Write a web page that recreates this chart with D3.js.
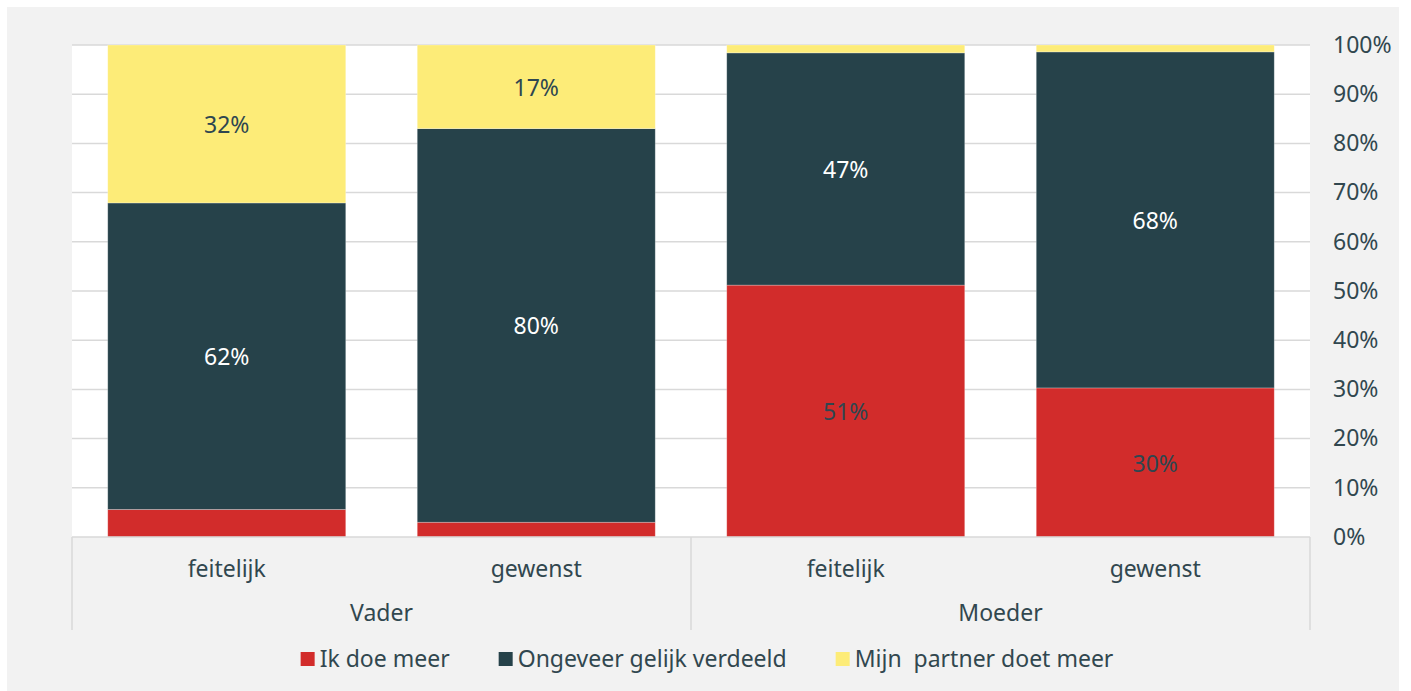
<!DOCTYPE html>
<html>
<head>
<meta charset="utf-8">
<script src="https://cdn.jsdelivr.net/npm/d3@7/dist/d3.min.js"></script>
<style>
  html, body { margin: 0; padding: 0; background: #ffffff; }
  svg { display: block; }
  text { font-family: "Noto Sans", Lato, sans-serif; }
</style>
</head>
<body>
<svg id="chart" width="1411" height="691"></svg>
<script>
// ---- data ----
const groups = ["Vader", "Vader", "Moeder", "Moeder"];
const subcategories = ["feitelijk", "gewenst", "feitelijk", "gewenst"];
const seriesNames = ["Ik doe meer", "Ongeveer gelijk verdeeld", "Mijn  partner doet meer"];
const ikDoeMeer = [5.6, 3, 51.2, 30.3];
const gelijkVerdeeld = [62.3, 80, 47.2, 68.3];
const partnerDoetMeer = [32.1, 17, 1.6, 1.4];
const yTicks = [0, 10, 20, 30, 40, 50, 60, 70, 80, 90, 100];

const colors = ["#d22c2b", "#26424a", "#fdec78"];
const labelColors = ["#2e4650", "#ffffff", "#2e4650"];
const textColor = "#31474f";
const gridColor = "#d9d9d9";
const FS = 23;

const svg = d3.select("#chart");

// background panel
svg.append("rect").attr("x", 7).attr("y", 7).attr("width", 1392).attr("height", 684).attr("fill", "#f2f2f2");

const plot = { left: 72, right: 1310, top: 45, bottom: 537 };
svg.append("rect").attr("x", plot.left).attr("y", plot.top)
  .attr("width", plot.right - plot.left).attr("height", plot.bottom - plot.top).attr("fill", "#ffffff");

const idx = d3.range(subcategories.length);
const x = d3.scaleBand().domain(idx).range([plot.left, plot.right]).paddingInner(0.231).paddingOuter(0.1155);
const y = d3.scaleLinear().domain([0, 100]).range([plot.bottom, plot.top]);

// gridlines
svg.append("g").selectAll("line").data(yTicks.filter(t => t > 0)).join("line")
  .attr("x1", plot.left).attr("x2", plot.right)
  .attr("y1", d => y(d)).attr("y2", d => y(d))
  .attr("stroke", gridColor).attr("stroke-width", 1.5);

// stacked data
const table = idx.map(i => ({ i, s0: ikDoeMeer[i], s1: gelijkVerdeeld[i], s2: partnerDoetMeer[i] }));
const stack = d3.stack().keys(["s0", "s1", "s2"]);
const stacked = stack(table);

const layers = svg.append("g").selectAll("g").data(stacked).join("g")
  .attr("fill", (d, k) => colors[k]);
layers.selectAll("rect").data(d => d).join("rect")
  .attr("x", d => x(d.data.i))
  .attr("width", x.bandwidth())
  .attr("y", d => y(d[1]))
  .attr("height", d => y(d[0]) - y(d[1]))
  .attr("stroke", "rgba(255,255,255,0.35)").attr("stroke-width", 0.75);

// data labels (small segments are unlabeled in the reference)
const lbl = svg.append("g");
stacked.forEach((layer, k) => {
  layer.forEach(d => {
    const v = d[1] - d[0];
    if (v < 10) return;
    lbl.append("text")
      .attr("x", x(d.data.i) + x.bandwidth() / 2)
      .attr("y", (y(d[0]) + y(d[1])) / 2 + 1)
      .attr("dy", "0.35em")
      .attr("text-anchor", "middle")
      .attr("font-size", FS)
      .attr("fill", labelColors[k])
      .text(d3.format(".0f")(v) + "%");
  });
});

// right y-axis labels
const yAxis = d3.axisRight(y).tickValues(yTicks).tickSize(0).tickPadding(0).tickFormat(d => d + "%");
const ya = svg.append("g").attr("transform", `translate(1333,0)`).call(yAxis);
ya.select(".domain").remove();
ya.selectAll("text").attr("font-size", FS).attr("fill", textColor)
  .attr("font-family", "'Noto Sans', Lato, sans-serif").attr("text-anchor", "start");

// category axis box
const axisBottom = 630;
const groupNames = Array.from(new Set(groups));
const groupBounds = groupNames.map(g => {
  const members = idx.filter(i => groups[i] === g);
  const first = members[0], last = members[members.length - 1];
  const step = x.step();
  const l = first === 0 ? plot.left : x(first) - step * x.paddingInner() / 2;
  const r = last === idx.length - 1 ? plot.right : x(last) + x.bandwidth() + step * x.paddingInner() / 2;
  return { g, l, r };
});
const ax = svg.append("g").attr("stroke", gridColor).attr("stroke-width", 1.5);
ax.append("line").attr("x1", plot.left).attr("x2", plot.right).attr("y1", plot.bottom).attr("y2", plot.bottom);
const dividers = [plot.left].concat(groupBounds.map(b => b.r));
ax.selectAll("line.v").data(dividers).join("line").attr("class", "v")
  .attr("x1", d => d).attr("x2", d => d).attr("y1", plot.bottom).attr("y2", axisBottom);

svg.append("g").selectAll("text").data(idx).join("text")
  .attr("x", i => x(i) + x.bandwidth() / 2).attr("y", 577)
  .attr("text-anchor", "middle").attr("font-size", FS).attr("fill", textColor)
  .text(i => subcategories[i]);

svg.append("g").selectAll("text").data(groupBounds).join("text")
  .attr("x", d => (d.l + d.r) / 2).attr("y", 621)
  .attr("text-anchor", "middle").attr("font-size", FS).attr("fill", textColor)
  .text(d => d.g);

// legend
const leg = svg.append("g");
const items = leg.selectAll("g").data(seriesNames).join("g");
items.append("rect").attr("width", 14).attr("height", 14).attr("y", 652).attr("fill", (d, k) => colors[k]);
items.append("text").attr("x", 19).attr("y", 667).attr("font-size", FS).attr("fill", textColor)
  .style("white-space", "pre").attr("xml:space", "preserve").text(d => d);
const GAP = 49;
let cx = 0;
const positions = [];
items.each(function () {
  const w = d3.select(this).select("text").node().getComputedTextLength();
  positions.push(cx);
  cx += 19 + w + GAP;
});
const totalW = cx - GAP;
const startX = 707 - totalW / 2;
items.attr("transform", (d, k) => `translate(${startX + positions[k]},0)`);
</script>
</body>
</html>
